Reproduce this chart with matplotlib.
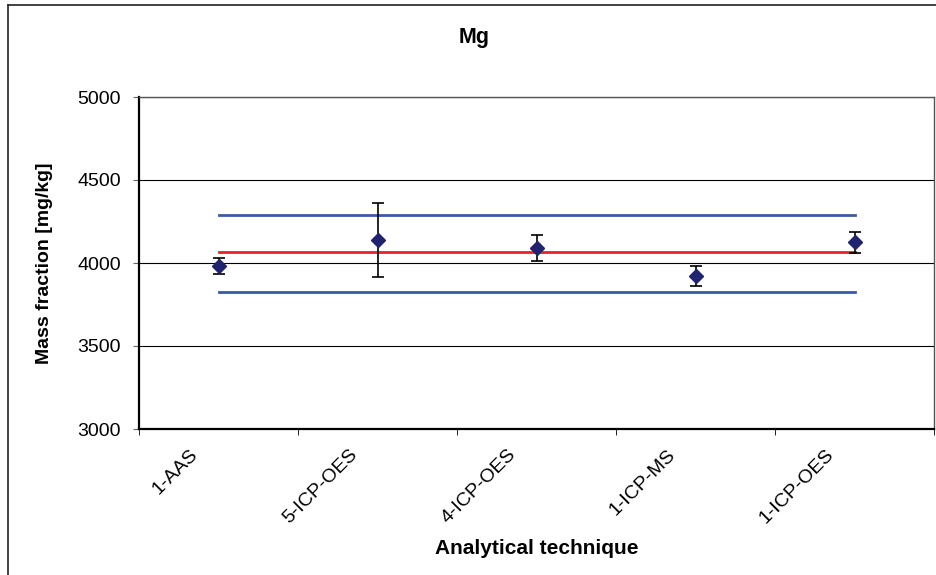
import numpy as np
import matplotlib
matplotlib.use("Agg")
import matplotlib.pyplot as plt
import matplotlib.transforms as mtransforms
from matplotlib.lines import Line2D

plt.rcParams['font.family'] = ['Liberation Sans', 'DejaVu Sans']

# data
techniques = ['1-AAS', '5-ICP-OES', '4-ICP-OES', '1-ICP-MS', '1-ICP-OES']
mass_fraction = [3982, 4137, 4088, 3920, 4124]
uncertainty = [46, 224, 78, 60, 61]
mean_value = 4064
upper_limit = 4292
lower_limit = 3827

W, H = 936, 575
fig = plt.figure(figsize=(W / 100, H / 100), dpi=100)
ax = fig.add_axes([139 / W, 1 - 429 / H, (934 - 139) / W, (429 - 97) / H])

x = np.arange(len(techniques))

# reference lines from first to last category
ax.plot([x[0], x[-1]], [upper_limit, upper_limit], color='#3a5aa8', lw=2.0, zorder=2)
ax.plot([x[0], x[-1]], [lower_limit, lower_limit], color='#3a5aa8', lw=2.0, zorder=2)
ax.plot([x[0], x[-1]], [mean_value, mean_value], color='#ee2024', lw=2.0, zorder=2)

ax.errorbar(x, mass_fraction, yerr=uncertainty, fmt='D', color='#1f2370', ms=7.5,
            ecolor='black', elinewidth=1.2, capsize=4.5, capthick=1.2, zorder=4)

ax.set_ylim(3000, 5000)
ax.set_xlim(-0.5, len(techniques) - 0.5)
ax.set_yticks([3000, 3500, 4000, 4500, 5000])
ax.yaxis.grid(True, color='black', lw=0.8)
ax.set_axisbelow(True)

ax.set_xticks(x)
ax.set_xticklabels(techniques, rotation=45, ha='right', va='center',
                   rotation_mode='anchor', fontsize=14)
ax.set_xticks(np.arange(-0.5, len(techniques)), minor=True)
ax.tick_params(axis='x', which='major', length=0, pad=0)
ax.tick_params(axis='x', which='minor', length=4, direction='out', color='black')
ax.tick_params(axis='y', length=4.5, direction='out', color='#666666', labelsize=14, pad=8.5)

offset = mtransforms.ScaledTranslation(-23 / 100, -23 / 100, fig.dpi_scale_trans)
for lab in ax.get_xticklabels():
    lab.set_transform(lab.get_transform() + offset)

for side in ['left', 'bottom']:
    ax.spines[side].set_color('black')
    ax.spines[side].set_linewidth(1.6)
for side in ['top', 'right']:
    ax.spines[side].set_color('#555555')
    ax.spines[side].set_linewidth(1.0)

fig.text(45 / W, 1 - 263 / H, 'Mass fraction [mg/kg]', rotation=90, ha='center', va='center',
         fontsize=14, fontweight='bold')
fig.text(537 / W, 1 - 548 / H, 'Analytical technique', ha='center', va='center',
         fontsize=15, fontweight='bold')
fig.text(474 / W, 1 - 38 / H, 'Mg', ha='center', va='center', fontsize=15.5, fontweight='bold')

# outer chart border (left and top edges visible)
fig.add_artist(Line2D([8 / W, 8 / W], [0, 1 - 5 / H], transform=fig.transFigure, color='#222222', lw=1.2))
fig.add_artist(Line2D([8 / W, 1], [1 - 5 / H, 1 - 5 / H], transform=fig.transFigure, color='#222222', lw=1.2))

fig.savefig('out.png', dpi=100)
